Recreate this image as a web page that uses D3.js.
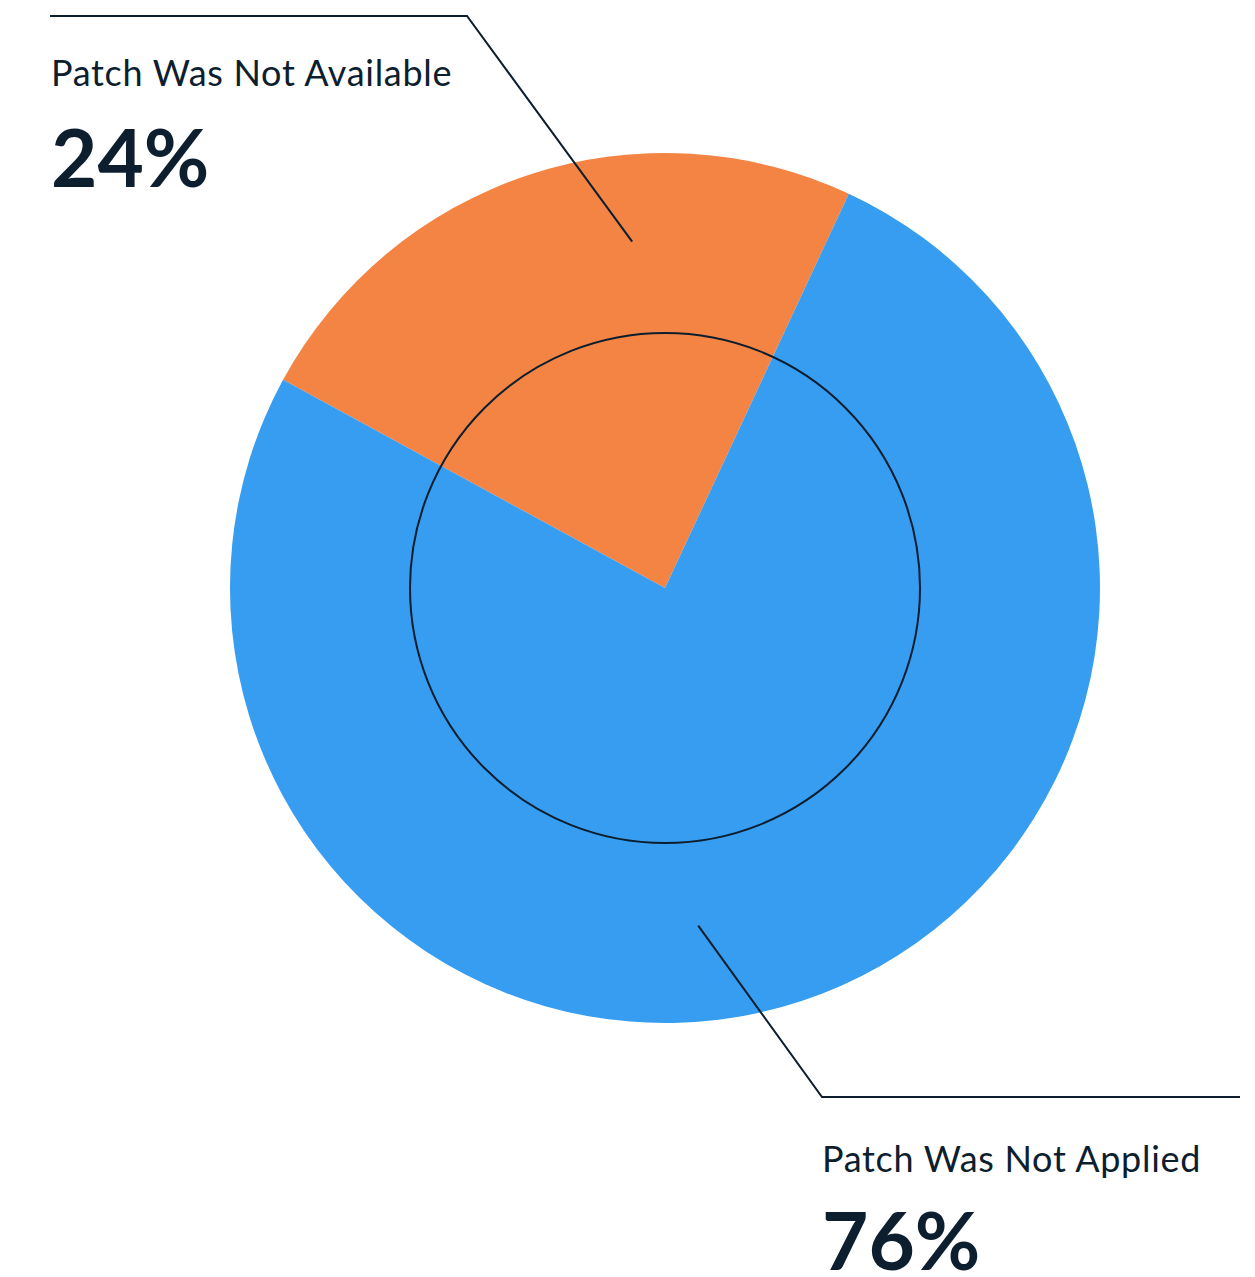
<!DOCTYPE html>
<html>
<head>
<meta charset="utf-8">
<script src="https://cdn.jsdelivr.net/npm/d3@7"></script>
<style>
	body { margin: 0; background: #fff; }
	text { font-family: Lato, 'Open Sans', sans-serif; fill: #0d1e2e; }
</style>
</head>
<body>
<svg id="chart"></svg>
<script>
let labels = ['Patch Was Not Available', 'Patch Was Not Applied']
let values = [24, 76]
let colors = ['#f38444', '#379df1']

let width = 1255
let height = 1277
let cx = 665
let cy = 588
let radius = 435
let innerRing = 255
let ink = '#0d1e2e'

let svg = d3.select('#chart')
	.attr('width', width)
	.attr('height', height)

let startDeg = -61.4
let pie = d3.pie()
	.sort(null)
	.value(d => d)
	.startAngle(startDeg * Math.PI / 180)
	.endAngle((startDeg + 360) * Math.PI / 180)

let arc = d3.arc()
	.innerRadius(0)
	.outerRadius(radius)

let arcs = pie(values)

let g = svg.append('g')
	.attr('transform', `translate(${cx},${cy})`)

g.selectAll('.slice')
	.data(arcs)
	.enter()
	.append('path')
	.attr('class', 'slice')
	.attr('d', arc)
	.attr('fill', (d, i) => colors[i])

g.append('circle')
	.attr('r', innerRing)
	.attr('fill', 'none')
	.attr('stroke', ink)
	.attr('stroke-width', 2)

// leader lines: from a point inside each slice out to a horizontal rule
// t = how far along the slice's angle span, r = fraction of the radius
let leaders = [
	{ t: 0.648, r: 0.80, elbow: [467, 16], end: [50, 16] },
	{ t: 0.546, r: 0.78, elbow: [822, 1097], end: [1240, 1097] }
]

arcs.forEach((a, i) => {
	let L = leaders[i]
	let ang = a.startAngle + (a.endAngle - a.startAngle) * L.t
	let pt = [cx + Math.sin(ang) * radius * L.r, cy - Math.cos(ang) * radius * L.r]
	svg.append('path')
		.attr('d', d3.line()([pt, L.elbow, L.end]))
		.attr('fill', 'none')
		.attr('stroke', ink)
		.attr('stroke-width', 2)
})

let labelPos = [[51, 86, 187], [822, 1172, 1270]]

labels.forEach((l, i) => {
	let [x, y1, y2] = labelPos[i]
	svg.append('text')
		.attr('x', x)
		.attr('y', y1)
		.attr('font-size', 36)
		.attr('letter-spacing', 0.7)
		.text(l)
	svg.append('text')
		.attr('x', x)
		.attr('y', y2)
		.attr('font-size', 80)
		.attr('font-weight', 700)
		.text(values[i] + '%')
})
</script>
</body>
</html>
